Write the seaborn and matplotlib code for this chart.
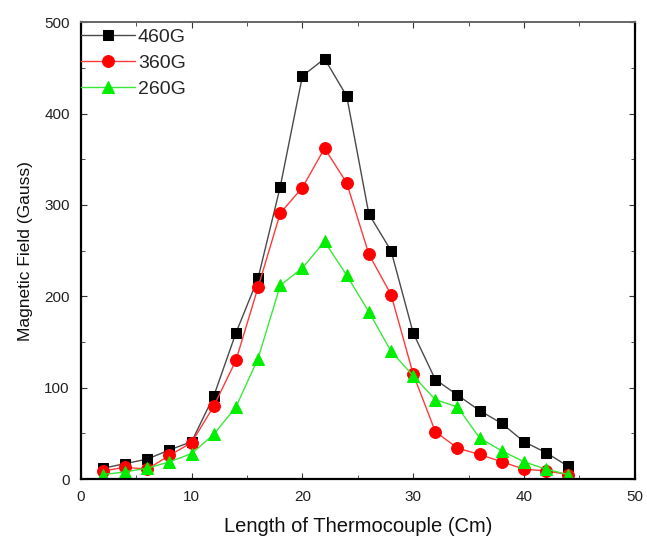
import matplotlib
matplotlib.use("Agg")
import matplotlib.pyplot as plt
import seaborn as sns
import pandas as pd
from matplotlib.ticker import MultipleLocator

length_cm = [2, 4, 6, 8, 10, 12, 14, 16, 18, 20, 22, 24, 26, 28, 30, 32, 34, 36, 38, 40, 42, 44]
field_460 = [12, 17, 22, 32, 41, 91, 160, 220, 320, 441, 460, 419, 290, 250, 160, 109, 92, 75, 61, 41, 29, 14]
field_360 = [9, 13, 11, 26, 40, 80, 130, 210, 291, 319, 362, 324, 246, 202, 115, 52, 34, 27, 19, 11, 9, 5]
field_260 = [5, 8, 12, 19, 28, 49, 79, 132, 212, 231, 260, 223, 183, 140, 113, 87, 79, 45, 31, 19, 11, 5]
series_names = ["460G", "360G", "260G"]
x_ticks = [0, 10, 20, 30, 40, 50]
y_ticks = [0, 100, 200, 300, 400, 500]

df = pd.concat([
    pd.DataFrame({"x": length_cm, "y": vals, "series": name})
    for name, vals in zip(series_names, [field_460, field_360, field_260])
])

sns.set_style("ticks")
plt.rcParams["font.family"] = ["Liberation Sans", "DejaVu Sans"]

fig = plt.figure(figsize=(6.47, 5.39), dpi=100)
ax = fig.add_axes([0.125, 0.111, 0.856, 0.848])

line_colors = {"460G": "#4a4a4a", "360G": "#ff3a3a", "260G": "#3ae83a"}
marker_colors = {"460G": "#000000", "360G": "#ff0000", "260G": "#00ee00"}
markers = {"460G": "s", "360G": "o", "260G": "^"}
sizes = {"460G": 7.5, "360G": 8.5, "260G": 8.5}

for name in series_names:
    sub = df[df["series"] == name]
    sns.lineplot(data=sub, x="x", y="y", ax=ax, color=line_colors[name],
                 marker=markers[name], markersize=sizes[name],
                 markerfacecolor=marker_colors[name], markeredgecolor=marker_colors[name],
                 linewidth=1.0, label=name)

ax.set_xlim(0, 50)
ax.set_ylim(0, 500)
ax.set_xticks(x_ticks)
ax.set_yticks(y_ticks)
ax.xaxis.set_minor_locator(MultipleLocator(5))
ax.yaxis.set_minor_locator(MultipleLocator(50))
ax.tick_params(which="both", direction="in", top=True, right=True, labelsize=11,
               colors="#333333", labelcolor="#222222")
ax.tick_params(which="major", length=4)
ax.tick_params(which="minor", length=3)
ax.tick_params(axis="x", pad=8)
ax.tick_params(axis="y", pad=8)
for s in ["left", "bottom", "right"]:
    ax.spines[s].set_linewidth(1.6)
    ax.spines[s].set_color("black")
ax.spines["top"].set_linewidth(1.4)
ax.spines["top"].set_color("#666666")

ax.set_xlabel("Length of Thermocouple (Cm)", fontsize=14.5, labelpad=9, color="#111111")
ax.set_ylabel("Magnetic Field (Gauss)", fontsize=12.5, labelpad=8, color="#111111")

leg = ax.legend(loc="upper left", bbox_to_anchor=(-0.011, 1), frameon=False, fontsize=14,
                handlelength=2.8, borderaxespad=0, labelspacing=0.45,
                handletextpad=0.15, borderpad=0.3)

fig.savefig("out.png", dpi=100)
